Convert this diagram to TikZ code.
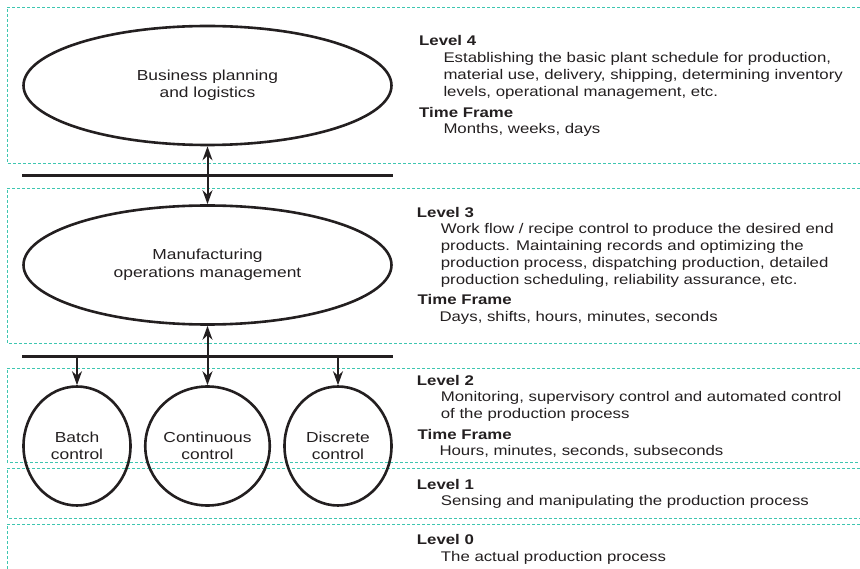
\documentclass[tikz,border=0pt]{standalone}
\usepackage{fontspec}
\setmainfont{Liberation Sans}[FakeStretch=1.2]
\usetikzlibrary{shapes.geometric,arrows.meta}

\definecolor{levelline}{RGB}{62,198,176}
\definecolor{ink}{RGB}{35,31,32}

\newcommand{\levelnote}[1]{\begin{tabular}[t]{@{}l@{}}#1\end{tabular}}

\tikzset{
	levelbox/.style={draw=levelline, dash pattern=on 3pt off 2pt, line width=0.8pt},
	unit/.style={draw=ink, ellipse, line width=2.6pt, inner sep=0pt, align=center,
		text=ink, font=\fontsize{14.5}{17.5}\selectfont},
	bus/.style={draw=ink, line width=3.6pt},
	link/.style={draw=ink, line width=2pt},
	head/.style={anchor=base west, inner sep=0pt, text=ink,
		font=\fontsize{14}{16.7}\selectfont\bfseries},
	body/.style={anchor=base west, inner sep=0pt, text=ink,
		font=\fontsize{14}{16.7}\selectfont}
}

\begin{document}
\begin{tikzpicture}[x=1pt,y=-1pt,>={Stealth[length=14pt,width=10pt]}]
		\useasboundingbox (0,0) rectangle (860,569);
		\clip (0,0) rectangle (860,569);
		
		% level frames (open to the right)
		\draw[levelbox] (860,7) -- (7,7) -- (7,163) -- (860,163);
		\draw[levelbox] (860,188) -- (7,188) -- (7,343) -- (860,343);
		\draw[levelbox] (860,368) -- (7,368) -- (7,462) -- (860,462);
		\draw[levelbox] (860,468) -- (7,468) -- (7,518) -- (860,518);
		\draw[levelbox] (860,524) -- (7,524) -- (7,569);
		
		\node[unit, minimum width=368pt, minimum height=119pt] (plan)
			at (207.5,85.5) {Business planning\\and logistics};
		\node[unit, minimum width=368pt, minimum height=119pt] (mom)
			at (207.5,265) {Manufacturing\\operations management};
		
		\node[unit, minimum width=107pt, minimum height=119pt] (batch)
			at (77,446) {Batch\\control};
		\node[unit, minimum width=107pt, minimum height=119pt] (cont)
			at (207.5,446) {Continuous\\control};
		\node[unit, minimum width=107pt, minimum height=119pt] (disc)
			at (338,446) {Discrete\\control};
		
		\coordinate (busA) at (22,175.7);
		\coordinate (busB) at (393,175.7);
		\coordinate (busC) at (22,356.7);
		\coordinate (busD) at (393,356.7);
		\draw[bus] (busA) -- (busB);
		\draw[bus] (busC) -- (busD);
		
		\draw[link,<->] (plan.south) -- (mom.north);
		\draw[link,<->] (mom.south) -- (cont.north);
		\draw[link,->] (batch.north |- busC) -- (batch.north);
		\draw[link,->] (disc.north |- busC) -- (disc.north);
		
		% level 4
		\node[head] (l4) at (419,45.7) {Level 4};
		\node[body] (l4text) at (443.3,62.7) {\levelnote{Establishing the basic plant schedule for production,\\material use, delivery, shipping, determining inventory\\levels, operational management, etc.}};
		\node[head] (l4tf) at (419,117.3) {Time Frame};
		\node[body] (l4time) at (443.3,133.3) {Months, weeks, days};
		
		% level 3
		\node[head] (l3) at (416.7,217.7) {Level 3};
		\node[body] (l3text) at (440.7,234) {\levelnote{Work flow / recipe control to produce the desired end\\products. Maintaining records and optimizing the\\production process, dispatching production, detailed\\production scheduling, reliability assurance, etc.}};
		\node[head] (l3tf) at (417.5,305) {Time Frame};
		\node[body] (l3time) at (439.3,321.7) {Days, shifts, hours, minutes, seconds};
		
		% level 2
		\node[head] (l2) at (416.7,385) {Level 2};
		\node[body] (l2text) at (440.7,401.7) {\levelnote{Monitoring, supervisory control and automated control\\of the production process}};
		\node[head] (l2tf) at (417.5,439.3) {Time Frame};
		\node[body] (l2time) at (439.3,455.3) {Hours, minutes, seconds, subseconds};
		
		% level 1
		\node[head] (l1) at (416.7,489) {Level 1};
		\node[body] (l1text) at (440.7,505.7) {Sensing and manipulating the production process};
		
		% level 0
		\node[head] (l0) at (416.7,544.3) {Level 0};
		\node[body] (l0text) at (440.7,561) {The actual production process};
	\end{tikzpicture}
\end{document}
